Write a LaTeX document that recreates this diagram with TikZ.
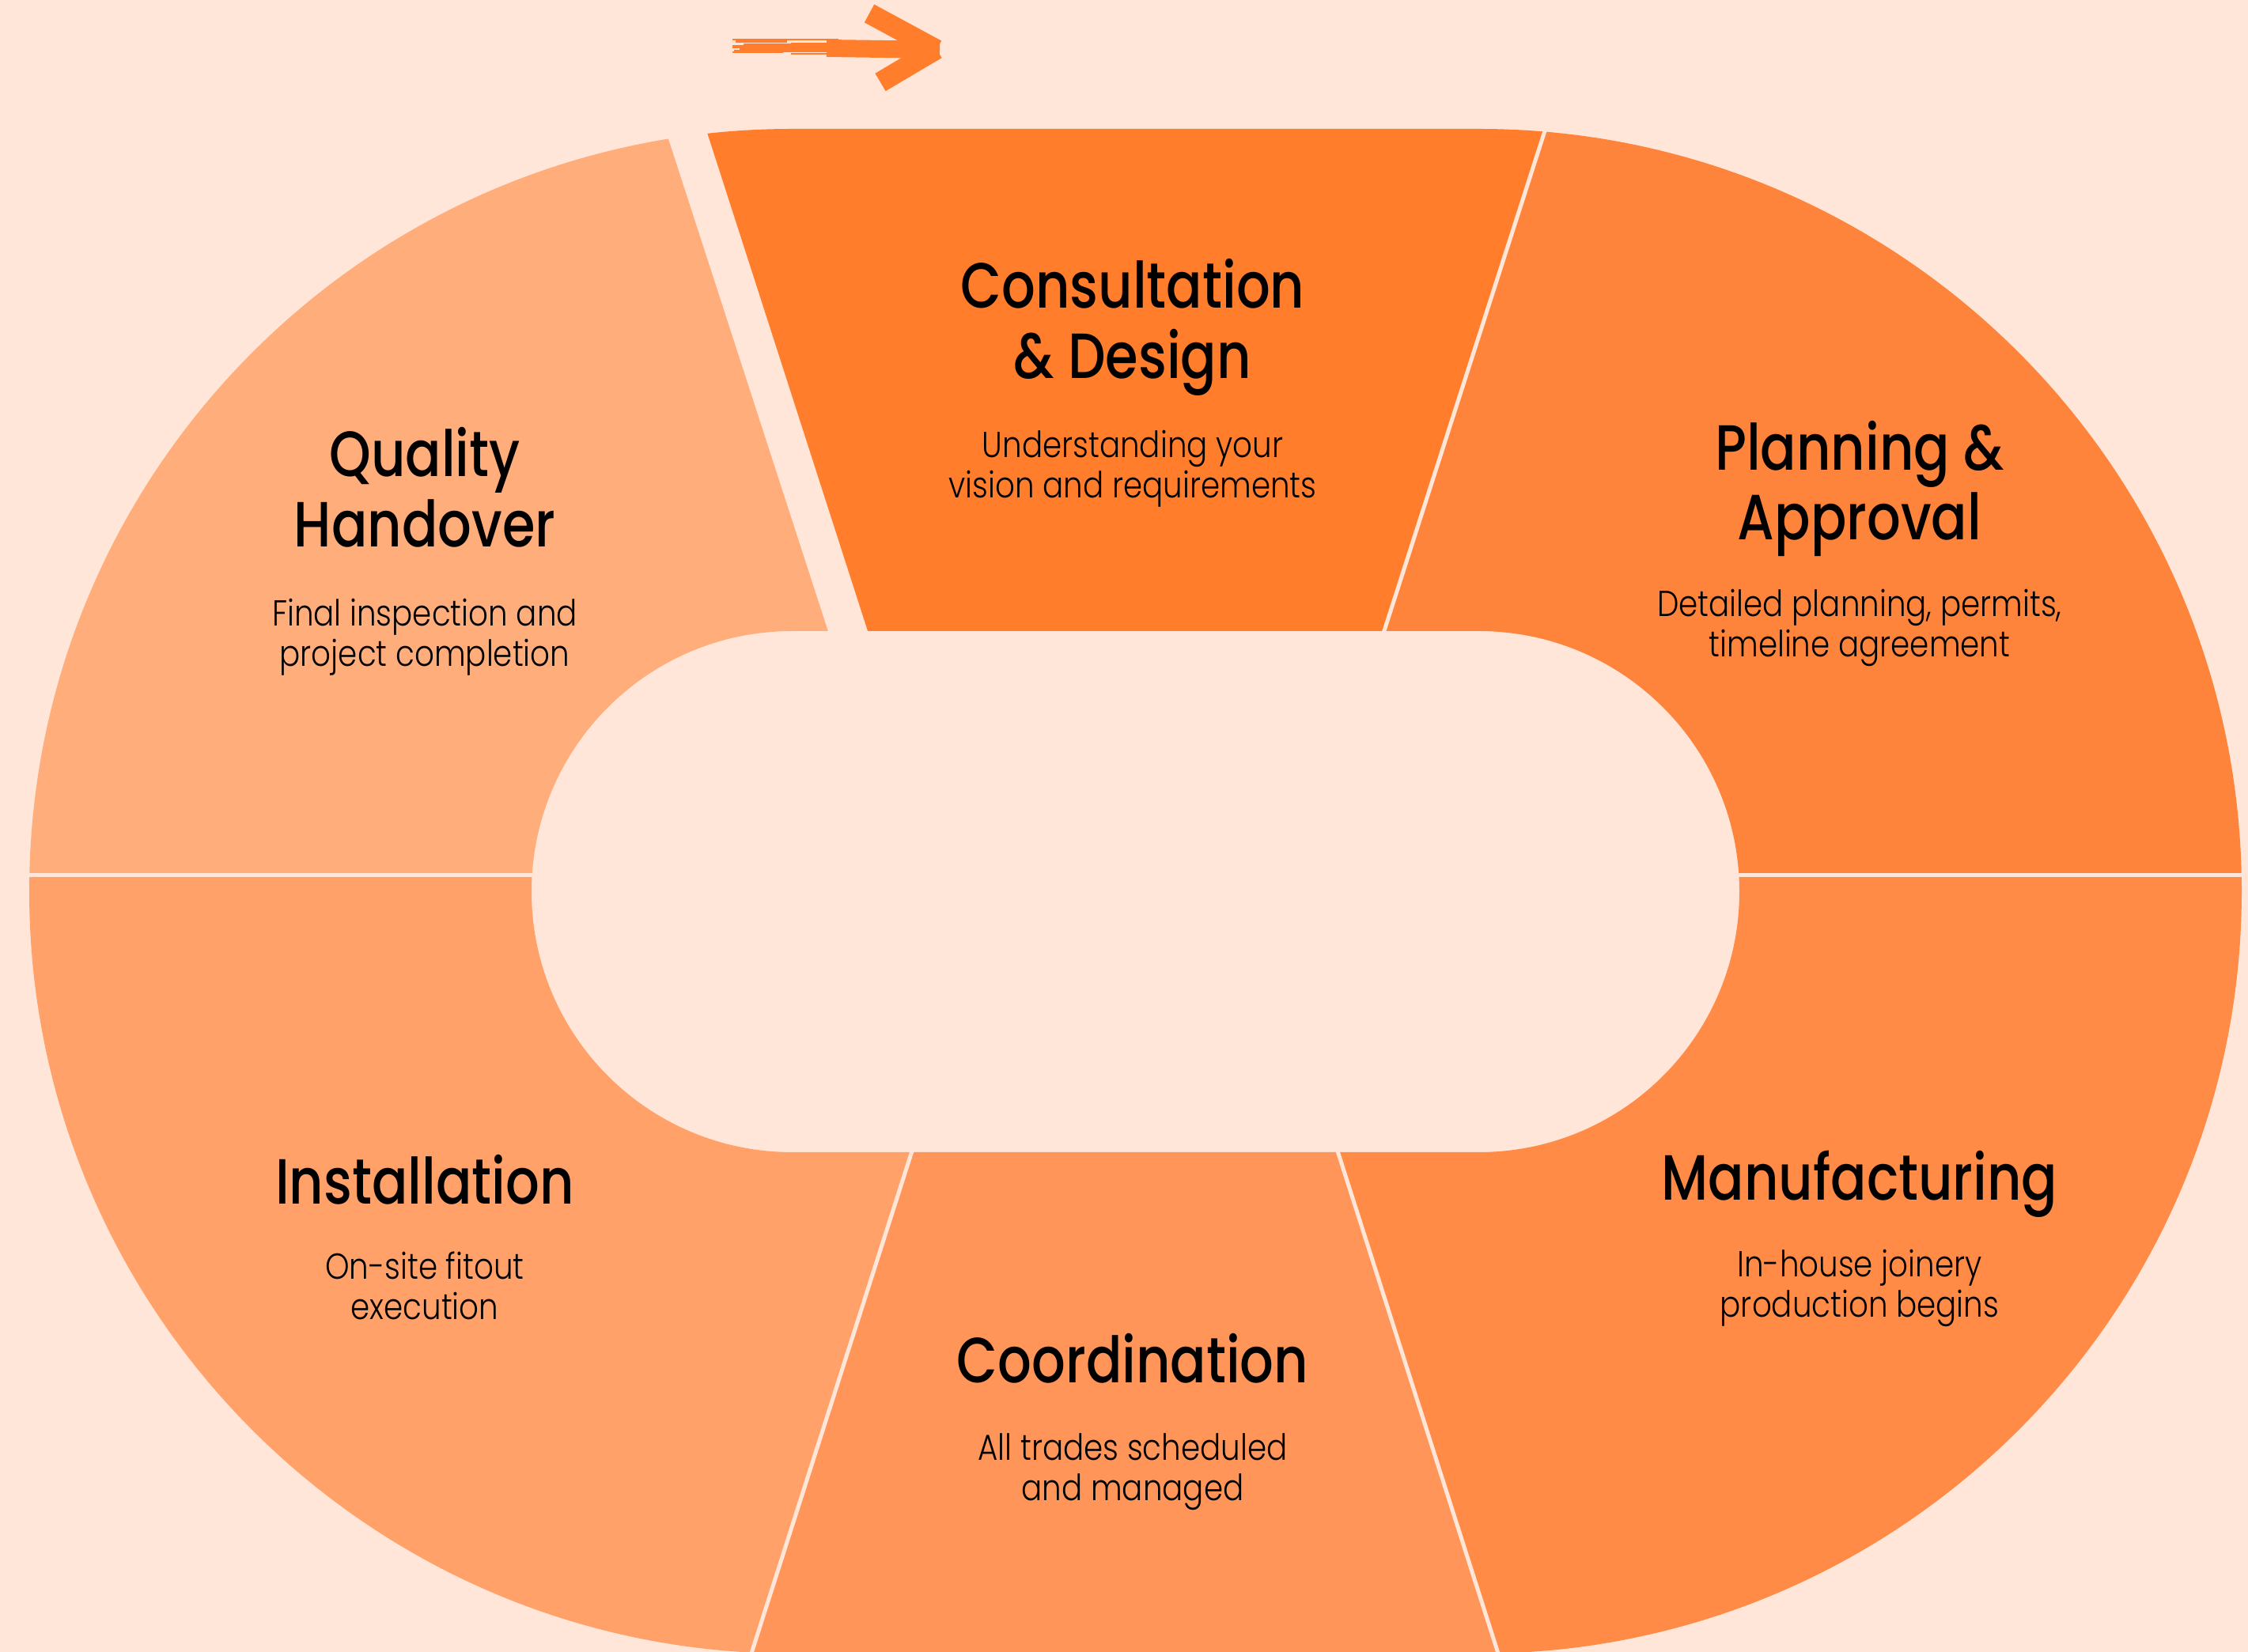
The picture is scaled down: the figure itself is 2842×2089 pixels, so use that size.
\documentclass[tikz,border=0pt]{standalone}
\usepackage{fontspec}
\newfontfamily\headfont{Poppins Medium}[FakeStretch=0.83]
\newfontfamily\bodyfont{Poppins Light}[FakeStretch=0.85]
\usetikzlibrary{calc}

\definecolor{bg}{HTML}{FFE6D8}
\definecolor{consult}{HTML}{FF7D2B}
\definecolor{planning}{HTML}{FF843B}
\definecolor{manufact}{HTML}{FF8B47}
\definecolor{coord}{HTML}{FF9558}
\definecolor{install}{HTML}{FFA168}
\definecolor{quality}{HTML}{FFAD7B}

\tikzset{
	title/.style={align=center, inner sep=0pt, font=\headfont\fontsize{23}{25.3}\selectfont},
	desc/.style={align=center, inner sep=0pt, font=\bodyfont\fontsize{13}{14.5}\selectfont},
	divider/.style={draw=bg, line width=0.5mm},
	brush/.style={draw=consult, line cap=butt},
}

\begin{document}
\begin{tikzpicture}[x=0.1mm, y=-0.1mm]
	\def\ring{{[rounded corners=96.4mm] (37,163) rectangle (2834,2091)} {[rounded corners=32.95mm] (672,798) rectangle (2199,1457)}}

	\fill[bg] (0,0) rectangle (2842,2089);
	\useasboundingbox (0,0) rectangle (2842,2089);

	\begin{scope}
		\clip (0,0) -- (788,0) -- (1147,1107) -- (0,1107) -- cycle;
		\fill[quality, even odd rule] \ring;
	\end{scope}
	\begin{scope}
		\clip (840,0) -- (2006,0) -- (1644,1127) -- (1203,1127) -- cycle;
		\fill[consult, even odd rule] \ring;
	\end{scope}
	\begin{scope}
		\clip (2006,0) -- (2842,0) -- (2842,1107) -- (1650,1107) -- cycle;
		\fill[planning, even odd rule] \ring;
	\end{scope}
	\begin{scope}
		\clip (1580,1107) -- (2842,1107) -- (2842,2200) -- (1929,2200) -- cycle;
		\fill[manufact, even odd rule] \ring;
	\end{scope}
	\begin{scope}
		\clip (1264,1107) -- (1580,1107) -- (1929,2200) -- (916,2200) -- cycle;
		\fill[coord, even odd rule] \ring;
	\end{scope}
	\begin{scope}
		\clip (0,1107) -- (1264,1107) -- (916,2200) -- (0,2200) -- cycle;
		\fill[install, even odd rule] \ring;
	\end{scope}

	\begin{scope}[divider]
		\draw (1958,150) -- (1746,810);
		\draw (20,1107) -- (690,1107);
		\draw (2180,1107) -- (2850,1107);
		\draw (1157,1443) -- (947,2100);
		\draw (1687,1443) -- (1897,2100);
	\end{scope}

	\begin{scope}[brush]
		\draw[line width=2.2mm] (1045,61) -- (1188,63);
		\draw[line width=2.6mm] (1099,17) -- (1184,63);
		\draw[line width=2.6mm] (1113,104) -- (1184,62);
		\foreach \y/\w/\a/\b in {50/0.25/926/1060, 53/0.3/930/995, 56/0.2/940/1060, 59/0.35/926/1060, 62/0.25/935/1060, 65/0.3/928/1060, 68/0.2/1000/1060, 55/0.15/1000/1060, 66/0.15/926/990}
		{
			\draw[line width=\w mm] (\a,\y) -- (\b,\y);
		}
	\end{scope}

	\node[title] (consulttitle) at (1432,414) {Consultation\\\& Design};
	\node[desc] (consultdesc) at (1432,593) {Understanding your\\vision and requirements};

	\node[title] (plantitle) at (2351,618) {Planning \&\\Approval};
	\node[desc] (plandesc) at (2351,794) {Detailed planning, permits,\\timeline agreement};

	\node[title] (mantitle) at (2351,1497) {Manufacturing};
	\node[desc] (mandesc) at (2351,1629) {In-house joinery\\production begins};

	\node[title] (coordtitle) at (1432,1718) {Coordination};
	\node[desc] (coorddesc) at (1432,1861) {All trades scheduled\\and managed};

	\node[title] (installtitle) at (537,1492) {Installation};
	\node[desc] (installdesc) at (537,1626) {On-site fitout\\execution};

	\node[title] (qualtitle) at (537,616) {Quality\\Handover};
	\node[desc] (qualdesc) at (537,806) {Final inspection and\\project completion};
\end{tikzpicture}
\end{document}
